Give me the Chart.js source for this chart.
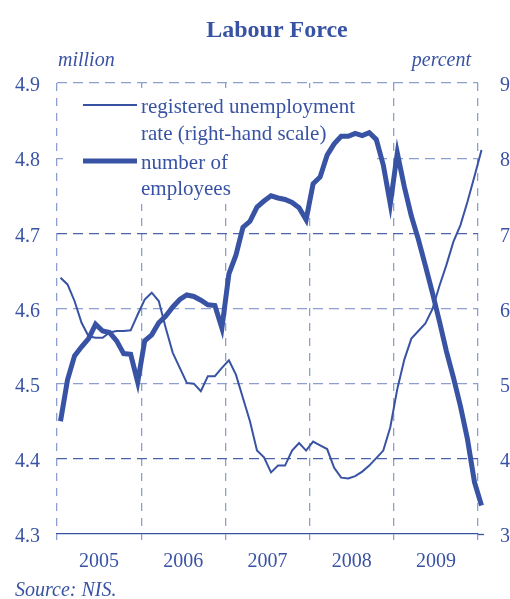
<!DOCTYPE html>
<html>
<head>
<meta charset="utf-8">
<script src="https://cdn.jsdelivr.net/npm/chart.js@4.4.0/dist/chart.umd.min.js"></script>
<style>
  body { margin: 0; background: #fff; }
  canvas { display: block; }
</style>
</head>
<body>
<canvas id="graficoFuerza" width="510" height="599"></canvas>
<script>
// Años del eje horizontal
const years = ["2005", "2006", "2007", "2008", "2009"];

// Número de empleados (millones), mensual desde ene 2005
const employees = [
  4.450, 4.505, 4.537, 4.549, 4.560, 4.579, 4.570, 4.568, 4.557, 4.540, 4.539, 4.502,
  4.557, 4.565, 4.581, 4.590, 4.602, 4.612, 4.618, 4.616, 4.611, 4.605, 4.604, 4.574,
  4.646, 4.671, 4.708, 4.716, 4.735, 4.743, 4.750, 4.747, 4.745, 4.741, 4.734, 4.718,
  4.766, 4.775, 4.804, 4.819, 4.829, 4.829, 4.833, 4.830, 4.834, 4.825, 4.791, 4.739,
  4.807, 4.762, 4.723, 4.692, 4.657, 4.621, 4.583, 4.543, 4.508, 4.470, 4.426, 4.369,
  4.338,
];

// Tasa de desempleo registrado (%), escala derecha
const unemployment = [
  6.41, 6.32, 6.10, 5.81, 5.63, 5.61, 5.61, 5.68, 5.70, 5.70, 5.71, 5.92,
  6.12, 6.21, 6.10, 5.74, 5.41, 5.21, 5.01, 5.00, 4.90, 5.10, 5.10, 5.21,
  5.31, 5.12, 4.81, 4.50, 4.11, 4.02, 3.82, 3.91, 3.91, 4.11, 4.21, 4.11,
  4.23, 4.18, 4.13, 3.88, 3.75, 3.74, 3.77, 3.83, 3.91, 4.01, 4.11, 4.42,
  4.93, 5.32, 5.60, 5.70, 5.80, 5.99, 6.30, 6.58, 6.89, 7.11, 7.42, 7.76,
  8.11,
];

const azul = "#3953a4";
const gridClaro = "#8d9ed0";
const gridOscuro = "#4c62ab";
const fuente = "'Liberation Serif', 'Times New Roman', serif";

Chart.defaults.font.family = fuente;
Chart.defaults.color = azul;

// cada punto va a mitad de mes
const aPuntos = (serie) => serie.map((v, i) => ({ x: i + 0.5, y: v }));

// Textos fijos: título, unidades, leyenda y fuente
const textos = {
  id: "textos",
  beforeDatasetsDraw(chart) {
    // fondo blanco de la leyenda, tapa la rejilla
    const c = chart.ctx;
    c.save();
    c.fillStyle = "#fff";
    c.fillRect(63, 88, 310, 116);
    c.restore();
  },
  afterDraw(chart) {
    const c = chart.ctx;
    c.save();
    c.fillStyle = azul;
    c.strokeStyle = azul;
    c.textBaseline = "alphabetic";

    c.font = "bold 24px " + fuente;
    c.textAlign = "center";
    c.fillText("Labour Force", 277, 37);

    c.font = "italic 20px " + fuente;
    c.textAlign = "left";
    c.fillText("million", 58, 66);
    c.textAlign = "right";
    c.fillText("percent", 471, 66);
    c.textAlign = "left";
    c.fillText("Source: NIS.", 15, 596);

    // leyenda
    c.lineWidth = 2;
    c.beginPath();
    c.moveTo(83, 105);
    c.lineTo(137, 105);
    c.stroke();
    c.lineWidth = 5;
    c.beginPath();
    c.moveTo(83, 161);
    c.lineTo(137, 161);
    c.stroke();

    c.font = "21px " + fuente;
    c.fillText("registered unemployment", 141, 113);
    c.fillText("rate (right-hand scale)", 141, 140);
    c.fillText("number of", 141, 169);
    c.fillText("employees", 141, 195);
    c.restore();
  },
};

const ctx = document.getElementById("graficoFuerza").getContext("2d");
const grafico = new Chart(ctx, {
  type: "line",
  data: {
    datasets: [
      {
        label: "number of employees",
        data: aPuntos(employees),
        yAxisID: "y",
        borderColor: azul,
        borderWidth: 5,
        pointRadius: 0,
        tension: 0,
        clip: false,
        order: 0,
      },
      {
        label: "registered unemployment rate (right-hand scale)",
        data: aPuntos(unemployment),
        yAxisID: "y2",
        borderColor: azul,
        borderWidth: 2,
        pointRadius: 0,
        tension: 0,
        clip: false,
        order: 1,
      },
    ],
  },
  options: {
    responsive: false,
    animation: false,
    layout: { padding: { top: 83, left: 0, right: 0, bottom: 0 } },
    plugins: {
      legend: { display: false },
      tooltip: { enabled: false },
    },
    scales: {
      x: {
        type: "linear",
        min: 0,
        max: 60,
        afterBuildTicks: (scale) => {
          scale.ticks = [0, 6, 12, 18, 24, 30, 36, 42, 48, 54, 60].map((v) => ({ value: v }));
        },
        afterFit: (scale) => {
          scale.height = 65;
        },
        ticks: {
          autoSkip: false,
          maxRotation: 0,
          padding: 10,
          font: { size: 20 },
          color: azul,
          callback: (v) => (v % 12 === 6 ? years[(v - 6) / 12] : ""),
        },
        grid: {
          color: (c) => (c.tick && c.tick.value % 12 === 0 ? gridClaro : "rgba(0,0,0,0)"),
          tickColor: (c) => (c.tick && c.tick.value % 12 === 0 ? gridClaro : "rgba(0,0,0,0)"),
          lineWidth: 1.3,
          tickLength: 6,
          tickWidth: 1.3,
        },
        border: { display: true, color: azul, width: 1.3, dash: [8, 7] },
      },
      y: {
        position: "left",
        min: 4.3,
        max: 4.9,
        afterFit: (scale) => {
          scale.width = 57;
        },
        ticks: {
          stepSize: 0.1,
          padding: 17,
          labelOffset: 3,
          font: { size: 20 },
          color: azul,
          callback: (v) => v.toFixed(1),
        },
        grid: {
          drawTicks: false,
          lineWidth: 1.3,
          color: (c) => {
            const v = c.tick ? Math.round(c.tick.value * 10) : 0;
            if (v === 43) return "rgba(0,0,0,0)";
            return v === 47 || v === 44 ? gridOscuro : gridClaro;
          },
        },
        border: { display: false, dash: [10, 6] },
      },
      y2: {
        position: "right",
        min: 3,
        max: 9,
        afterFit: (scale) => {
          scale.width = 32;
        },
        ticks: {
          stepSize: 1,
          padding: 16,
          labelOffset: 3,
          font: { size: 20 },
          color: azul,
        },
        grid: {
          drawOnChartArea: false,
          tickLength: 6,
          tickWidth: 1.3,
          tickColor: (c) => (c.tick && c.tick.value === 3 ? azul : "rgba(0,0,0,0)"),
        },
        border: { display: false },
      },
    },
  },
  plugins: [textos],
});
</script>
</body>
</html>
